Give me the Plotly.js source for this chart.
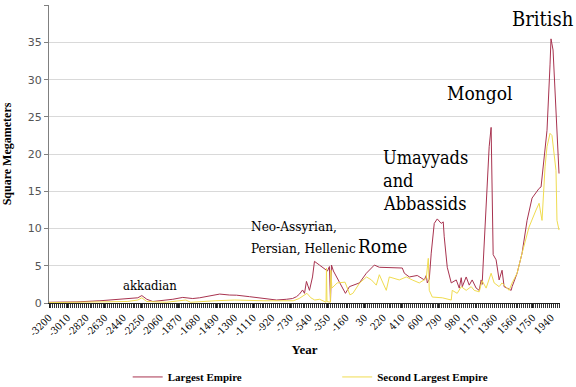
<!DOCTYPE html>
<html>
<head>
<meta charset="utf-8">
<script src="https://cdn.plot.ly/plotly-3.0.1.min.js"></script>
<style>html,body{margin:0;padding:0;background:#fff;}#chart{width:576px;height:387px;}</style>
</head>
<body>
<div id="chart"></div>
<script>
// Largest empire (square megameters)
const largestYears = [-3200,-2914,-2679,-2475,-2342,-2291,-2250,-2199,-2138,-2066,-1933,-1831,-1729,-1658,-1555,-1453,-1351,-1280,-1147,-1014,-871,-769,-708,-667,-636,-605,-585,-565,-534,-503,-483,-432,-360,-350,-330,-319,-309,-289,-166,-125,-23,48,130,181,416,437,488,569,641,661,672,692,712,743,774,814,835,845,876,917,968,999,1019,1030,1070,1101,1131,1172,1203,1223,1233,1254,1274,1305,1325,1335,1346,1376,1386,1407,1437,1458,1489,1530,1540,1591,1642,1693,1744,1785,1816,1836,1867,1897,1928,1938,1959,1979,1999,2020];
const largestValues = [0.1,0.15,0.3,0.5,0.55,0.7,1.0,0.5,0.2,0.3,0.5,0.75,0.6,0.7,0.95,1.2,1.07,1.05,0.85,0.6,0.4,0.5,0.6,0.85,1.2,1.75,1.3,2.9,1.7,3.5,5.6,5.1,4.4,4.3,4.9,0.2,5.1,4.3,1.3,2.2,2.7,4.0,5.1,4.8,4.7,4.0,3.5,3.7,3.1,3.7,2.7,3.2,6.7,10.7,11.3,10.7,10.9,8.9,4.8,2.7,3.1,2.0,3.4,2.2,3.5,2.4,3.1,2.0,1.7,3.1,2.5,8.0,12.9,21.0,23.6,16.0,6.5,5.8,4.7,3.1,4.4,2.2,2.0,1.7,2.2,4.0,6.7,11.1,14.1,14.9,15.4,15.6,19.2,23.2,32.0,35.5,34.0,28.0,22.0,17.4];

// Second largest empire (square megameters)
const secondYears = [-3200,-2700,-2400,-2290,-2250,-2200,-2000,-1800,-1750,-1500,-1300,-1000,-700,-640,-600,-560,-520,-480,-430,-365,-360,-355,-320,-315,-305,-250,-170,-120,-90,-20,50,100,150,181,252,283,385,457,518,590,661,682,692,723,825,917,927,978,1019,1070,1121,1152,1203,1233,1274,1325,1356,1407,1437,1509,1540,1591,1642,1713,1785,1816,1846,1877,1897,1928,1948,1969,1989,1999,2020];
const secondValues = [0.05,0.1,0.2,0.4,0.7,0.2,0.1,0.4,0.1,0.3,0.4,0.3,0.3,0.6,1.0,1.3,0.7,0.4,0.5,0.1,4.7,0.2,0.1,4.4,2.0,2.7,2.8,1.1,1.3,2.7,3.5,3.1,2.4,3.8,1.7,3.5,3.1,3.5,3.1,2.7,3.3,6.0,1.7,0.8,0.7,0.4,1.7,1.3,2.2,1.7,2.2,1.7,1.5,3.0,2.0,4.0,2.7,2.2,2.7,1.7,2.7,4.0,6.7,10.2,12.5,13.4,11.1,18.3,21.0,22.8,22.5,20.0,17.8,11.1,9.8];

const tickYears = [-3200,-3010,-2820,-2630,-2440,-2250,-2060,-1870,-1680,-1490,-1300,-1110,-920,-730,-540,-350,-160,30,220,410,600,790,980,1170,1360,1560,1750,1940];
const yTicks = [0,5,10,15,20,25,30,35,40];

const serif = "DejaVu Serif Condensed";
const serifBold = "Liberation Serif";

const traces = [
  {x: largestYears, y: largestValues, type: 'scatter', mode: 'lines', name: 'Largest Empire',
   line: {color: '#a8334f', width: 1}, legend: 'legend'},
  {x: secondYears, y: secondValues, type: 'scatter', mode: 'lines', name: 'Second Largest Empire',
   line: {color: '#f0dc50', width: 1}, legend: 'legend2'}
];

const annFont = (s) => ({family: serif, size: s, color: '#000'});
const layout = {
  width: 576, height: 387,
  margin: {l: 49, r: 16, t: 5, b: 84, autoexpand: false},
  paper_bgcolor: '#fff', plot_bgcolor: '#fff',
  showlegend: true,
  xaxis: {
    automargin: false,
    range: [-3200, 2030], tickmode: 'array', tickvals: tickYears, ticktext: tickYears.map(String),
    tickangle: -45, tickfont: {family: serif, size: 10, color: '#000'},
    showgrid: false, zeroline: false, showline: true, linecolor: '#222', linewidth: 1,
    ticks: 'outside', ticklen: 4, tickcolor: '#222',
    minor: {tickmode: 'linear', tick0: -3200, dtick: 20, ticks: 'outside', ticklen: 4, tickcolor: '#333', tickwidth: 1},
    title: {text: '<b>Year</b>', font: {family: serifBold, size: 13, color: '#000'}, standoff: 7}
  },
  yaxis: {
    automargin: false,
    range: [0, 40.05], tickvals: yTicks, showgrid: true, gridcolor: '#d9d9d9', gridwidth: 1,
    zeroline: false, showline: true, linecolor: '#808080', linewidth: 1,
    ticks: 'outside', ticklen: 4, tickcolor: '#808080',
    tickfont: {family: 'DejaVu Sans', size: 11, color: '#555'},
    title: {text: '<b>Square Megameters</b>', font: {family: serifBold, size: 12, color: '#000'}, standoff: 14}
  },
  legend: {orientation: 'h', x: 0.154, y: 0.026, yref: 'container', xanchor: 'left', yanchor: 'middle',
           font: {family: serifBold, size: 11, color: '#000', weight: 'bold'}, bgcolor: 'rgba(0,0,0,0)'},
  legend2: {orientation: 'h', x: 0.564, y: 0.026, yref: 'container', xanchor: 'left', yanchor: 'middle',
           font: {family: serifBold, size: 11, color: '#000', weight: 'bold'}, bgcolor: 'rgba(0,0,0,0)'},
  annotations: [
    {x: -2167, y: 2.4, xref: 'x', yref: 'y', text: 'akkadian', showarrow: false, font: annFont(13)},
    {x: -1150, y: 10.3, xref: 'x', yref: 'y', xanchor: 'left', text: 'Neo-Assyrian,', showarrow: false, font: annFont(13.5)},
    {x: -1150, y: 7.4, xref: 'x', yref: 'y', xanchor: 'left', text: 'Persian, Hellenic', showarrow: false, font: annFont(13.5)},
    {x: -60, y: 7.6, xref: 'x', yref: 'y', xanchor: 'left', text: 'Rome', showarrow: false, font: annFont(19)},
    {x: 195, y: 19.6, xref: 'x', yref: 'y', xanchor: 'left', text: 'Umayyads', showarrow: false, font: annFont(18)},
    {x: 195, y: 16.5, xref: 'x', yref: 'y', xanchor: 'left', text: 'and', showarrow: false, font: annFont(18)},
    {x: 195, y: 13.4, xref: 'x', yref: 'y', xanchor: 'left', text: 'Abbassids', showarrow: false, font: annFont(18)},
    {x: 855, y: 28.2, xref: 'x', yref: 'y', xanchor: 'left', text: 'Mongol', showarrow: false, font: annFont(19)},
    {x: 1520, y: 38.2, xref: 'x', yref: 'y', xanchor: 'left', text: 'British', showarrow: false, font: annFont(20)}
  ]
};

Plotly.newPlot('chart', traces, layout, {displayModeBar: false, staticPlot: true});
</script>
</body>
</html>
